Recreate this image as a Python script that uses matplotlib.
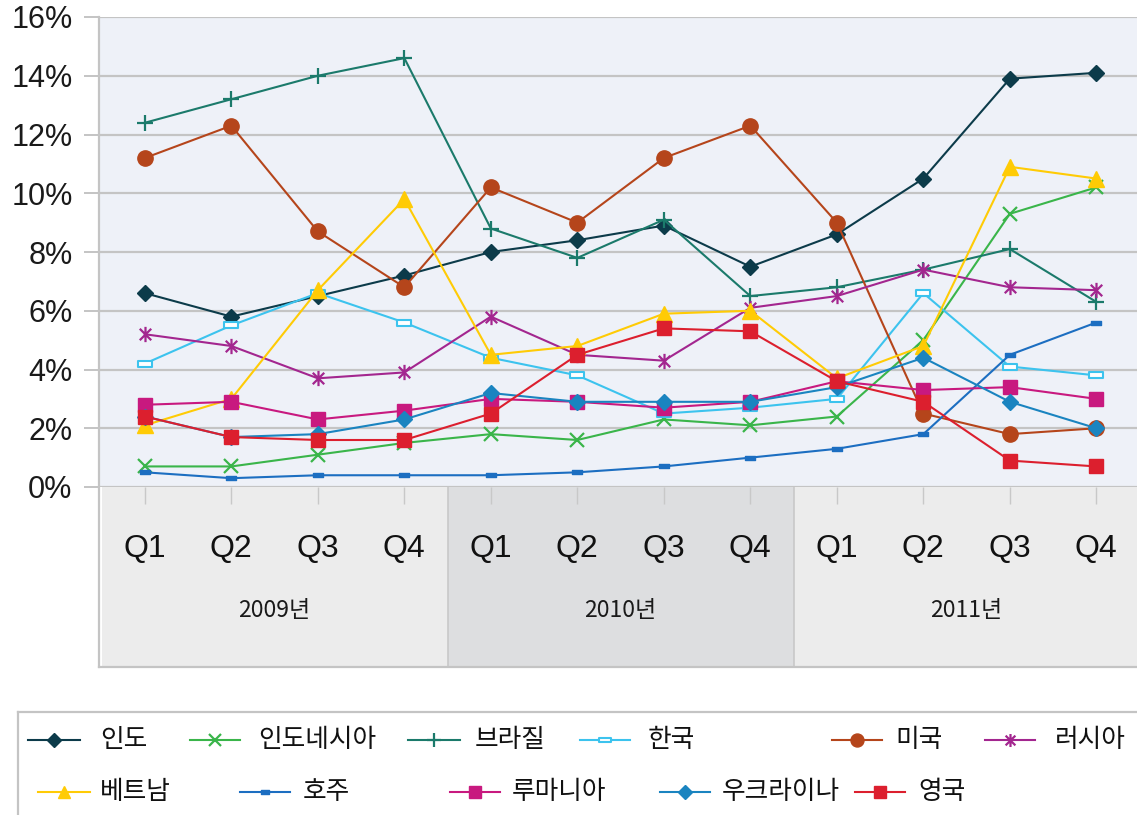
import matplotlib
matplotlib.use('Agg')
import matplotlib.pyplot as plt
from matplotlib.lines import Line2D
from matplotlib.path import Path

# ---------------- data ----------------
quarters = ['Q1', 'Q2', 'Q3', 'Q4'] * 3
years = ['2009년', '2010년', '2011년']
y_ticks = [0, 2, 4, 6, 8, 10, 12, 14, 16]

india      = [6.6, 5.8, 6.5, 7.2, 8.0, 8.4, 8.9, 7.5, 8.6, 10.5, 13.9, 14.1]
indonesia  = [0.7, 0.7, 1.1, 1.5, 1.8, 1.6, 2.3, 2.1, 2.4, 5.0, 9.3, 10.2]
brazil     = [12.4, 13.2, 14.0, 14.6, 8.8, 7.8, 9.1, 6.5, 6.8, 7.4, 8.1, 6.3]
korea      = [4.2, 5.5, 6.6, 5.6, 4.4, 3.8, 2.5, 2.7, 3.0, 6.6, 4.1, 3.8]
usa        = [11.2, 12.3, 8.7, 6.8, 10.2, 9.0, 11.2, 12.3, 9.0, 2.5, 1.8, 2.0]
russia     = [5.2, 4.8, 3.7, 3.9, 5.8, 4.5, 4.3, 6.1, 6.5, 7.4, 6.8, 6.7]
vietnam    = [2.1, 3.0, 6.7, 9.8, 4.5, 4.8, 5.9, 6.0, 3.7, 4.8, 10.9, 10.5]
australia  = [0.5, 0.3, 0.4, 0.4, 0.4, 0.5, 0.7, 1.0, 1.3, 1.8, 4.5, 5.6]
romania    = [2.8, 2.9, 2.3, 2.6, 3.0, 2.9, 2.7, 2.9, 3.6, 3.3, 3.4, 3.0]
ukraine    = [2.4, 1.7, 1.8, 2.3, 3.2, 2.9, 2.9, 2.9, 3.4, 4.4, 2.9, 2.0]
uk         = [2.4, 1.7, 1.6, 1.6, 2.5, 4.5, 5.4, 5.3, 3.6, 2.9, 0.9, 0.7]

names = ['인도', '인도네시아', '브라질', '한국', '미국', '러시아',
         '베트남', '호주', '루마니아', '우크라이나', '영국']
values = [india, indonesia, brazil, korea, usa, russia,
          vietnam, australia, romania, ukraine, uk]

# ---------------- styles ----------------
rect_wide = Path([(-1, -0.42), (1, -0.42), (1, 0.42), (-1, 0.42), (-1, -0.42)],
                 [Path.MOVETO, Path.LINETO, Path.LINETO, Path.LINETO, Path.CLOSEPOLY])
asterisk = Path([(0, -1), (0, 1), (-0.75, -0.75), (0.75, 0.75), (-0.75, 0.75), (0.75, -0.75)],
                [Path.MOVETO, Path.LINETO, Path.MOVETO, Path.LINETO, Path.MOVETO, Path.LINETO])

styles = {
    '인도':       dict(color='#0c3b4a', marker='D', ms=8.5, mfc='#0c3b4a'),
    '인도네시아': dict(color='#3ab54a', marker='x', ms=10, mfc='none', mew=1.6),
    '브라질':     dict(color='#1b7a6b', marker='+', ms=12, mfc='none', mew=1.6),
    '한국':       dict(color='#3cc3ee', marker=rect_wide, ms=10, mfc='white', mew=1.5),
    '미국':       dict(color='#b5451b', marker='o', ms=11, mfc='#b5451b'),
    '러시아':     dict(color='#a3268f', marker=asterisk, ms=11, mfc='none', mew=1.6),
    '베트남':     dict(color='#ffcb05', marker='^', ms=11, mfc='#ffcb05'),
    '호주':       dict(color='#1c6ec1', marker=rect_wide, ms=7, mfc='#1c6ec1', mew=1.0),
    '루마니아':   dict(color='#c8197f', marker='s', ms=9.5, mfc='#c8197f'),
    '우크라이나': dict(color='#1a84c0', marker='D', ms=8.5, mfc='#1a84c0'),
    '영국':       dict(color='#dc1f2e', marker='s', ms=10, mfc='#dc1f2e'),
}

W, H = 1137, 815
fig = plt.figure(figsize=(W / 100, H / 100), dpi=100)
fig.patch.set_facecolor('white')

def fx(px):
    return px / W

def fy(py):
    return 1 - py / H

# ---------------- main axes ----------------
ax_left, ax_right, ax_top, ax_bot = 99, 1137, 17, 487
ax = fig.add_axes([fx(ax_left), fy(ax_bot), fx(ax_right - ax_left), fy(ax_top) - fy(ax_bot)])
ax.set_facecolor('#eef1f8')
x = list(range(len(quarters)))
ax.set_xlim(-0.53, 11.47)
ax.set_ylim(0, 16)

for name, vals in zip(names, values):
    st = styles[name]
    ax.plot(x, vals, color=st['color'], lw=1.5, marker=st['marker'], ms=st['ms'],
            mfc=st['mfc'], mec=st['color'], mew=st.get('mew', 1.0), zorder=3,
            clip_on=False)

ax.set_yticks(y_ticks)
ax.set_yticklabels([f'{v}%' for v in y_ticks], fontsize=22,
                   fontfamily=['Liberation Sans', 'DejaVu Sans'], color='#1a1a1a')
ax.yaxis.grid(True, color='#c4c4c4', lw=1.6, zorder=0)
ax.set_axisbelow(True)
ax.tick_params(axis='y', length=11, width=1.4, color='#c4c4c4', pad=8)
ax.set_xticks([])
for s in ['top', 'right', 'bottom']:
    ax.spines[s].set_visible(False)
ax.spines['left'].set_color('#c4c4c4')
ax.spines['left'].set_linewidth(1.6)

# ---------------- category band axes ----------------
band_bot = 667
bx = fig.add_axes([fx(ax_left), fy(band_bot), fx(ax_right - ax_left), fy(ax_bot) - fy(band_bot)])
bx.set_xlim(ax.get_xlim())
bx.set_ylim(0, 1)
band_colors = ['#ececec', '#dddee0', '#ececec']
for i, (yr, c) in enumerate(zip(years, band_colors)):
    lo, hi = i * 4 - 0.5, i * 4 + 3.5
    bx.axvspan(max(lo, -0.53), min(hi, 11.47), color=c, zorder=0, lw=0)
    bx.text(i * 4 + 1.5, 0.315, yr, ha='center', va='center', fontsize=16.5,
            family=['Noto Sans CJK KR', 'DejaVu Sans'], color='#1a1a1a')
    if i > 0:
        bx.axvline(lo, color='#c8c8c8', lw=1.2, zorder=1)
for xi, q in zip(x, quarters):
    bx.text(xi, 0.655, q, ha='center', va='center', fontsize=23,
            family=['Liberation Sans', 'DejaVu Sans'], color='#111111')
bx.set_xticks(x)
bx.set_xticklabels([])
bx.tick_params(axis='x', direction='in', top=True, bottom=False, length=12,
               width=1.0, color='#c8c8c8')
bx.set_yticks([])
for s in ['top', 'right']:
    bx.spines[s].set_visible(False)
bx.spines['left'].set_color('#c4c4c4')
bx.spines['left'].set_linewidth(1.6)
bx.spines['bottom'].set_color('#c4c4c4')
bx.spines['bottom'].set_linewidth(1.6)

# ---------------- legend (manual layout) ----------------
fig.add_artist(Line2D([fx(18), fx(18)], [fy(712), fy(815)], color='#c4c4c4', lw=1.6))
fig.add_artist(Line2D([fx(18), fx(1137)], [fy(712), fy(712)], color='#c4c4c4', lw=1.6))

leg_pos = [  # (handle_x0, handle_x1, text_x, y)
    (28, 80, 100, 740), (190, 240, 258, 740), (408, 460, 475, 740),
    (580, 630, 648, 740), (832, 882, 895, 740), (985, 1035, 1055, 740),
    (38, 90, 100, 792), (240, 290, 303, 792), (450, 500, 512, 792),
    (660, 710, 722, 792), (855, 905, 918, 792),
]
for name, (h0, h1, tx, yy) in zip(names, leg_pos):
    st = styles[name]
    fig.add_artist(Line2D([fx(h0), fx(h1)], [fy(yy), fy(yy)], color=st['color'], lw=1.5))
    fig.add_artist(Line2D([fx((h0 + h1) / 2)], [fy(yy)], color=st['color'], lw=0,
                          marker=st['marker'], ms=st['ms'] * 0.85, mfc=st['mfc'],
                          mec=st['color'], mew=st.get('mew', 1.0)))
    fig.text(fx(tx), fy(yy), name, ha='left', va='center', fontsize=18.5,
             family=['Noto Sans CJK KR', 'DejaVu Sans'], color='#111111')

fig.savefig('out.png', dpi=100)
